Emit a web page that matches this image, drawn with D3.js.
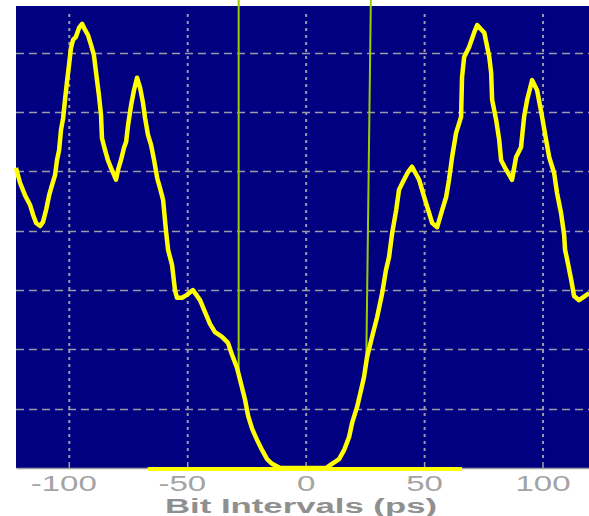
<!DOCTYPE html>
<html>
<head>
<meta charset="utf-8">
<script src="https://cdn.jsdelivr.net/npm/d3@7/dist/d3.min.js"></script>
<style>
  html, body { margin: 0; padding: 0; background: #ffffff; }
  svg { display: block; }
</style>
</head>
<body>
<div id="chart"></div>
<script>
// ---- data ----
const xTicks = [-100, -50, 0, 50, 100];
const xTickLabels = ["-100", "-50", "0", "50", "100"];
const yGridValues = [1, 2, 3, 4, 5, 6, 7];
const xTitle = "Bit Intervals (ps)";

const histX = [-122.5,-120.8,-118.7,-116.6,-115.3,-114.0,-112.3,-111.1,-109.8,-108.5,-107.3,-106.0,-105.2,-104.3,-103.5,-102.6,-101.8,-100.9,-100.1,-99.3,-98.4,-97.2,-95.9,-94.6,-93.4,-92.1,-90.8,-89.6,-88.3,-87.5,-86.6,-86.2,-84.9,-83.7,-82.4,-81.1,-80.3,-79.4,-78.2,-76.9,-76.0,-75.2,-73.9,-72.7,-71.4,-70.1,-68.9,-68.0,-66.8,-65.5,-64.2,-62.9,-61.7,-60.4,-59.2,-58.3,-56.6,-55.4,-54.5,-52.4,-50.3,-47.8,-44.8,-42.7,-40.6,-38.5,-35.5,-33.0,-31.3,-29.2,-27.5,-25.8,-24.5,-22.8,-20.7,-18.6,-16.5,-14.4,-11.0,8.4,10.9,13.9,16.0,18.1,19.4,21.5,23.2,24.4,25.7,27.8,30.0,32.1,33.7,35.0,36.3,38.0,39.2,41.3,43.0,44.7,47.7,49.8,51.9,53.2,55.3,57.4,59.1,60.3,61.6,63.3,65.4,65.8,66.7,68.8,70.9,72.2,75.2,77.3,78.1,78.5,80.2,81.5,82.3,84.4,86.9,88.6,90.7,92.0,93.3,95.4,97.5,99.6,101.3,102.6,104.7,105.9,107.6,108.9,109.3,110.2,111.9,113.1,115.2,119.5];
const histY = [5.06,4.81,4.60,4.44,4.27,4.13,4.08,4.15,4.35,4.60,4.77,4.94,5.19,5.36,5.70,5.90,6.21,6.54,6.80,7.08,7.22,7.27,7.42,7.49,7.39,7.30,7.13,6.96,6.54,6.29,5.95,5.56,5.36,5.19,5.06,4.94,4.86,5.03,5.19,5.40,5.50,5.78,6.12,6.37,6.58,6.41,6.16,5.90,5.62,5.45,5.19,4.89,4.72,4.52,4.01,3.68,3.42,3.00,2.87,2.87,2.92,3.00,2.83,2.63,2.43,2.29,2.21,2.11,1.91,1.69,1.42,1.15,0.88,0.66,0.47,0.30,0.15,0.07,0,0,0.07,0.15,0.30,0.52,0.76,1.03,1.32,1.53,1.87,2.21,2.55,2.95,3.34,3.56,3.96,4.35,4.69,4.86,4.99,5.08,4.86,4.57,4.30,4.13,4.06,4.35,4.57,4.86,5.24,5.65,5.92,6.59,6.93,7.10,7.34,7.47,7.34,6.93,6.66,6.21,5.87,5.53,5.19,5.03,4.86,5.24,5.41,5.92,6.21,6.54,6.37,5.92,5.53,5.24,4.97,4.64,4.30,3.93,3.68,3.51,3.17,2.90,2.83,2.95];

const baselineX = [-66.9, 65.8];
const baselineY = [0, 0];

const markerTopX = [-28.5, 27.3];
const markerBottomX = [-28.5, 25.4];
const markerBottomY = [1.65, 1.87];

// ---- layout ----
const W = 589, H = 516;
const plotLeft = 16, plotRight = 589, plotTop = 6, plotBottom = 468;

const x = d3.scaleLinear().domain([-122.5, 119.4]).range([plotLeft, plotRight]);
const y = d3.scaleLinear().domain([0, 7.79]).range([plotBottom, plotTop]);

const svg = d3.select("#chart").append("svg").attr("width", W).attr("height", H);

svg.append("rect")
  .attr("x", plotLeft).attr("y", plotTop)
  .attr("width", plotRight - plotLeft).attr("height", plotBottom - plotTop)
  .attr("fill", "#000080");

// horizontal dashed grid
svg.append("g").selectAll("line").data(yGridValues).join("line")
  .attr("x1", plotLeft).attr("x2", plotRight)
  .attr("y1", d => Math.round(y(d)) + 0.5).attr("y2", d => Math.round(y(d)) + 0.5)
  .attr("stroke", "#9a9aa8").attr("stroke-width", 1.5)
  .attr("stroke-dasharray", "8,5");

// vertical dotted grid
svg.append("g").selectAll("line").data(xTicks).join("line")
  .attr("x1", d => x(d)).attr("x2", d => x(d))
  .attr("y1", plotTop + 8).attr("y2", plotBottom - 6)
  .attr("stroke", "#9a9aa8").attr("stroke-width", 2)
  .attr("stroke-dasharray", "3,4");

// x axis via d3
const axis = d3.axisBottom(x).tickValues(xTicks).tickSize(0).tickFormat("");
const axG = svg.append("g").attr("transform", `translate(0,${plotBottom})`).call(axis);
axG.select(".domain").attr("stroke", "#a0a0a0").attr("stroke-width", 1.5);
// inner tick marks
svg.append("g").selectAll("line").data(xTicks).join("line")
  .attr("x1", d => x(d)).attr("x2", d => x(d))
  .attr("y1", plotBottom - 6).attr("y2", plotBottom)
  .attr("stroke", "#a0a0a0").attr("stroke-width", 1.5);

// tick labels (horizontally stretched, digits centred on tick)
const sx = 1.5;
const lab = svg.append("g");
xTicks.forEach((t, i) => {
  const s = xTickLabels[i];
  const neg = s.startsWith("-");
  const digits = neg ? s.slice(1) : s;
  const g = lab.append("g").attr("transform", `translate(${x(t)},491) scale(${sx},1)`);
  const txt = g.append("text")
    .attr("font-family", "'Liberation Sans', Arial, sans-serif")
    .attr("font-size", 22).attr("fill", "#a3a3a3")
    .attr("text-anchor", "middle").text(digits);
  if (neg) {
    const w = txt.node().getComputedTextLength();
    g.append("text")
      .attr("x", -w / 2)
      .attr("font-family", "'Liberation Sans', Arial, sans-serif")
      .attr("font-size", 22).attr("fill", "#a3a3a3")
      .attr("text-anchor", "end").text("-");
  }
});

// axis title
svg.append("text")
  .attr("x", 165).attr("y", 513)
  .attr("font-family", "'Liberation Sans', Arial, sans-serif")
  .attr("font-weight", "bold").attr("font-size", 20)
  .attr("fill", "#8f8f8f")
  .attr("textLength", 272).attr("lengthAdjust", "spacingAndGlyphs")
  .text(xTitle);

// yellow baseline segment
svg.append("path")
  .datum(baselineX.map((d, i) => [d, baselineY[i]]))
  .attr("d", d3.line().x(d => x(d[0])).y(d => y(d[1]) + 1))
  .attr("fill", "none").attr("stroke", "#ffff00").attr("stroke-width", 4);

// markers (green vertical lines)
svg.append("g").selectAll("line").data(markerTopX).join("line")
  .attr("x1", d => x(d)).attr("y1", 0)
  .attr("x2", (d, i) => x(markerBottomX[i])).attr("y2", (d, i) => y(markerBottomY[i]))
  .attr("stroke", "#99cc00").attr("stroke-width", 2);

// histogram curve
const pts = histX.map((d, i) => [d, histY[i]]);
svg.append("path")
  .datum(pts)
  .attr("d", d3.line().x(d => x(d[0])).y(d => y(d[1])))
  .attr("fill", "none").attr("stroke", "#ffff00")
  .attr("stroke-width", 4.5).attr("stroke-linejoin", "round");
</script>
</body>
</html>
